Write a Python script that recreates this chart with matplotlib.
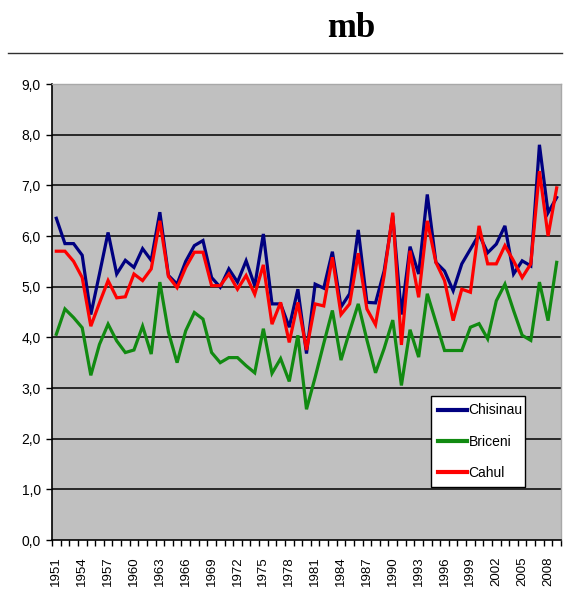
"""Annual series for three Moldovan stations (mb), Excel-style line chart."""

import matplotlib
matplotlib.use("Agg")
import matplotlib.pyplot as plt
from matplotlib.lines import Line2D
from matplotlib.ticker import FixedLocator

years = list(range(1951, 2010))

chisinau = [6.35, 5.85, 5.85, 5.62, 4.45, 5.25, 6.07, 5.25, 5.52, 5.38,
            5.75, 5.52, 6.47, 5.22, 5.05, 5.50, 5.81, 5.91, 5.18, 4.99,
            5.35, 5.09, 5.51, 5.02, 6.04, 4.66, 4.66, 4.20, 4.95, 3.68,
            5.05, 4.97, 5.69, 4.60, 4.86, 6.12, 4.69, 4.68, 5.31, 6.40,
            4.45, 5.79, 5.25, 6.82, 5.48, 5.31, 4.92, 5.45, 5.74, 6.03,
            5.67, 5.84, 6.20, 5.25, 5.51, 5.41, 7.80, 6.46, 6.76]

briceni = [4.06, 4.56, 4.39, 4.19, 3.25, 3.86, 4.26, 3.93, 3.70, 3.75,
           4.22, 3.67, 5.09, 4.10, 3.50, 4.13, 4.49, 4.36, 3.70, 3.50,
           3.60, 3.60, 3.44, 3.30, 4.17, 3.29, 3.58, 3.13, 4.04, 2.58,
           3.21, 3.88, 4.53, 3.55, 4.12, 4.66, 3.95, 3.30, 3.78, 4.34,
           3.05, 4.15, 3.61, 4.86, 4.30, 3.74, 3.74, 3.74, 4.20, 4.27,
           3.97, 4.72, 5.05, 4.53, 4.04, 3.94, 5.09, 4.33, 5.48]

cahul = [5.70, 5.70, 5.50, 5.18, 4.22, 4.68, 5.12, 4.78, 4.80, 5.25,
         5.12, 5.35, 6.30, 5.20, 4.98, 5.38, 5.68, 5.68, 5.02, 5.02,
         5.25, 4.95, 5.22, 4.85, 5.43, 4.26, 4.69, 3.90, 4.69, 3.75,
         4.66, 4.62, 5.58, 4.45, 4.66, 5.66, 4.56, 4.25, 5.22, 6.46,
         3.85, 5.71, 4.79, 6.30, 5.48, 5.12, 4.33, 4.95, 4.89, 6.20,
         5.45, 5.45, 5.81, 5.51, 5.18, 5.45, 7.28, 6.00, 6.95]

series_names = ["Chisinau", "Briceni", "Cahul"]
series_colors = ["#000080", "#118a11", "#ff0000"]
y_ticks = list(range(0, 10))

plt.rcParams['font.family'] = ['Liberation Sans', 'DejaVu Sans']

fig = plt.figure(figsize=(5.69, 6.05), dpi=100)
ax = fig.add_axes([52 / 569, 1 - 540 / 605, 509 / 569, 456 / 605])

# plot area like Excel: grey fill, black gridlines
ax.set_facecolor("#c0c0c0")
for v in y_ticks[1:-1]:
    ax.axhline(v, color="black", lw=1.1, zorder=1)

x = list(range(len(years)))
for vals, name, col in zip([chisinau, briceni, cahul], series_names, series_colors):
    ax.plot(x, vals, color=col, lw=2.3, label=name, zorder=3,
            solid_joinstyle="miter")

ax.set_xlim(-0.5, len(years) - 0.5)
ax.set_ylim(0, 9)

ax.set_yticks(y_ticks)
ax.set_yticklabels([f"{v:.1f}".replace(".", ",") for v in y_ticks], fontsize=10)
ax.tick_params(axis="y", direction="out", length=4, width=1, pad=4)

# category boundaries get tick marks, every 3rd year gets a label
ax.xaxis.set_major_locator(FixedLocator([i - 0.5 for i in range(len(years) + 1)]))
ax.xaxis.set_major_formatter(plt.NullFormatter())
ax.xaxis.set_minor_locator(FixedLocator(x[::3]))
ax.set_xticklabels([str(y) for y in years[::3]], minor=True, rotation=90,
                   fontsize=9.5)
ax.tick_params(axis="x", which="major", direction="out", length=4, width=1)
ax.tick_params(axis="x", which="minor", length=0, pad=12)

for side in ["left", "bottom"]:
    ax.spines[side].set_color("black")
    ax.spines[side].set_linewidth(1.2)
for side in ["top", "right"]:
    ax.spines[side].set_color("#a8a8a8")
    ax.spines[side].set_linewidth(1.0)

leg = ax.legend(loc="lower left", bbox_to_anchor=(0.745, 0.116, 0.184, 0.194),
                mode="expand", fontsize=10, handlelength=2.1, handletextpad=0.1,
                labelspacing=1.25, borderpad=0.5, fancybox=False, framealpha=1,
                borderaxespad=0)
leg.get_frame().set_facecolor("white")
leg.get_frame().set_edgecolor("black")
leg.get_frame().set_linewidth(1.0)
for h in leg.get_lines():
    h.set_linewidth(3)

# document header: title and rule
fig.text(351 / 569, 1 - 37 / 605, "mb", ha="center", va="baseline",
         fontsize=25, fontweight="bold", family="Liberation Serif")
fig.add_artist(Line2D([8 / 569, 562 / 569], [1 - 53 / 605, 1 - 53 / 605],
                      color="#303030", lw=1.0, transform=fig.transFigure))

fig.savefig("out.png", dpi=100)
